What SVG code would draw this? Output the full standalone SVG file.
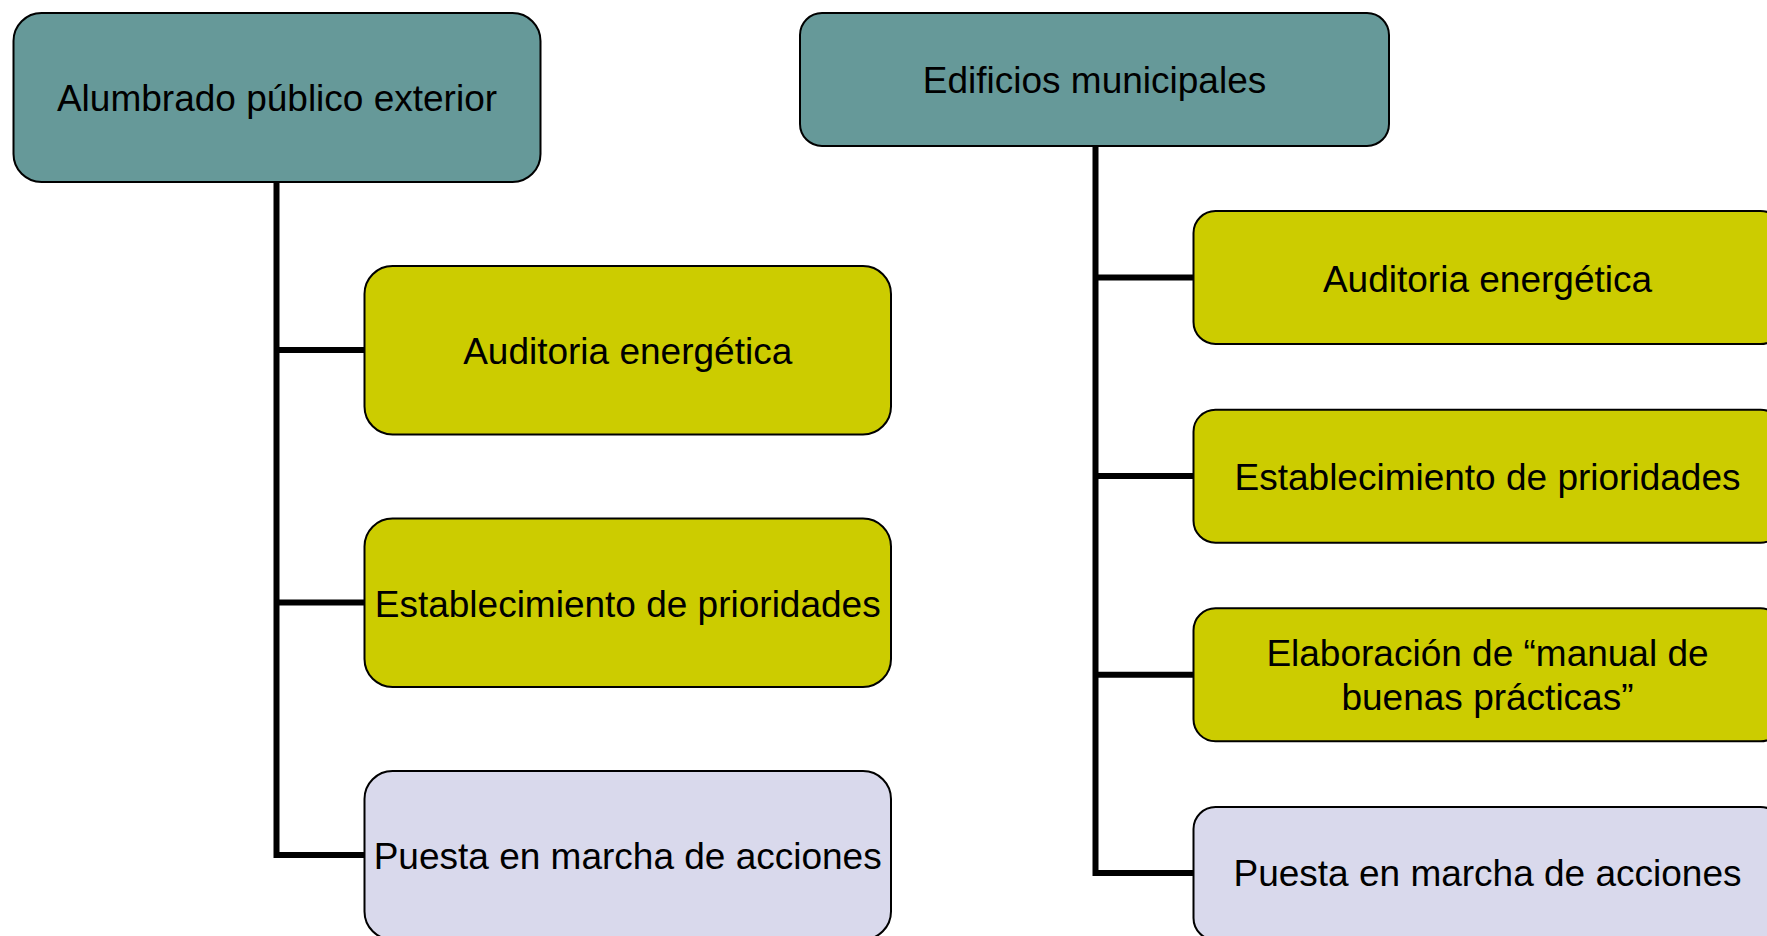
<svg xmlns="http://www.w3.org/2000/svg" width="1767" height="936" viewBox="0 0 1767 936">
<style>
.box{stroke:#000;stroke-width:2}
.teal{fill:#669999}
.olive{fill:#CCCC00}
.lav{fill:#D9D9EC}
text{font-family:"Liberation Sans",Arial,sans-serif;font-size:37px;fill:#000;text-anchor:middle}
.conn{fill:none;stroke:#000;stroke-width:6;stroke-linejoin:miter}
</style>
<rect width="1767" height="936" fill="#fff"/>
<g id="connectors">
<path class="conn" d="M276.5 182 V855 H364.5 M276.5 350 H364.5 M276.5 602.5 H364.5"/>
<path class="conn" d="M1095.5 146 V873 H1193.5 M1095.5 277.5 H1193.5 M1095.5 476 H1193.5 M1095.5 674.8 H1193.5"/>
</g>
<g id="n_alumbrado">
<rect class="box teal" x="13.5" y="13" width="527" height="169" rx="28"/>
<text x="277" y="111">Alumbrado público exterior</text>
</g>
<g id="n_l_auditoria">
<rect class="box olive" x="364.5" y="266" width="526.5" height="168.5" rx="28"/>
<text x="627.7" y="364">Auditoria energética</text>
</g>
<g id="n_l_establecimiento">
<rect class="box olive" x="364.5" y="518.5" width="526.5" height="168.5" rx="28"/>
<text x="627.7" y="616.7">Establecimiento de prioridades</text>
</g>
<g id="n_l_puesta">
<rect class="box lav" x="364.5" y="771" width="526.5" height="168.5" rx="28"/>
<text x="627.7" y="869">Puesta en marcha de acciones</text>
</g>
<g id="n_edificios">
<rect class="box teal" x="800" y="13" width="589" height="133" rx="22"/>
<text x="1094.5" y="92.7">Edificios municipales</text>
</g>
<g id="n_r_auditoria">
<rect class="box olive" x="1193.5" y="211" width="589" height="133" rx="22"/>
<text x="1487.5" y="291.7">Auditoria energética</text>
</g>
<g id="n_r_establecimiento">
<rect class="box olive" x="1193.5" y="409.7" width="589" height="133" rx="22"/>
<text x="1487.5" y="490">Establecimiento de prioridades</text>
</g>
<g id="n_r_elaboracion">
<rect class="box olive" x="1193.5" y="608.3" width="589" height="133" rx="22"/>
<text x="1487.5" y="665.5">Elaboración de “manual de</text>
<text x="1487.5" y="710">buenas prácticas”</text>
</g>
<g id="n_r_puesta">
<rect class="box lav" x="1193.5" y="807" width="589" height="133" rx="22"/>
<text x="1487.5" y="886">Puesta en marcha de acciones</text>
</g>
</svg>
